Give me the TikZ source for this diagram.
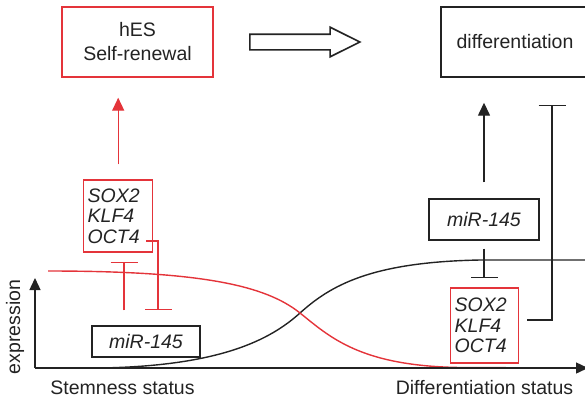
\documentclass[tikz,border=0pt]{standalone}
\usepackage{fontspec}
\setmainfont{Liberation Sans}
\usepackage{tikz}
\usetikzlibrary{shapes.arrows, arrows.meta, calc}
\definecolor{sred}{RGB}{228, 52, 58}
\definecolor{ink}{RGB}{35, 35, 35}
\newcommand*{\lw}{1.4}

\begin{document}
\begin{tikzpicture}[
   x=1pt, y=-1pt,
   font=\fontsize{19.5}{21}\selectfont,
   titlebox/.style={rectangle, draw=sred, line width=\lw, text=ink, align=center,
                    minimum width=151pt, minimum height=70pt, font=\fontsize{19.5}{24}\selectfont},
   plainbox/.style={rectangle, draw=ink, line width=\lw, text=ink, inner sep=4pt},
   genebox/.style={rectangle, draw=sred, line width=\lw, text=ink, inner xsep=4pt,
                   text width=61pt, align=left, minimum height=72pt,
                   font=\fontsize{19.5}{20.5}\selectfont\itshape},
   mirbox/.style={plainbox, font=\fontsize{19.5}{21}\selectfont\itshape},
   bigarrow/.style={single arrow, draw=ink, fill=white, line width=1.6, inner sep=7pt,
                    minimum height=110pt, minimum width=29pt, single arrow tip angle=53,
                    single arrow head extend=7pt},
   act/.style={line width=\lw, -{Triangle[length=13pt, width=12pt]}},
   inh/.style={line width=\lw, -{Bar[width=27pt]}},
   lbl/.style={text=ink, inner sep=0pt}
  ]

  \useasboundingbox (0, 0) rectangle (585, 400);

  % boxes
  \node (hes) at (137.5, 42) [titlebox] {hES\\Self-renewal};
  \node (diff) at (515, 42) [plainbox, minimum width=148pt, minimum height=70pt] {differentiation};
  \node (shift) at (297, 42) [bigarrow] {};

  \node (soxL) at (83, 216) [genebox, anchor=west] {SOX2\\KLF4\\OCT4};
  \node (mirL) at (146, 341.5) [mirbox, minimum width=108pt, minimum height=31pt] {miR-145};

  \node (mirR) at (484, 219.5) [mirbox, minimum width=110pt, minimum height=41pt] {miR-145};
  \node (soxR) at (450, 325.5) [genebox, anchor=west, text width=60pt, minimum height=75pt] {SOX2\\KLF4\\OCT4};

  % axes
  \coordinate (origin) at (35, 368);
  \coordinate (ytop) at (35, 278);
  \coordinate (xend) at (588, 368);

  \node (ylbl) at (15, 327) [lbl, rotate=90] {expression};
  \node (xlblL) at (122.5, 388) [lbl] {Stemness status};
  \node (xlblR) at (484.5, 388) [lbl] {Differentiation status};

  % expression curves
  \draw[ink, line width=\lw] (100, 368) .. controls (220, 366) and (270, 340) .. (300, 313)
        .. controls (330, 286) and (370, 262) .. (480, 260) -- (590, 260);
  \draw[sred, line width=\lw] (48, 271) .. controls (200, 271) and (265, 285) .. (300, 313)
        .. controls (330, 337) and (360, 366) .. (460, 367.5) -- (582, 368);

  \draw[ink, line width=\lw, -{Triangle[length=12pt, width=11pt]}] (origin) -- (ytop);
  \draw[ink, line width=\lw, -{Triangle[length=12pt, width=11pt]}] (origin) -- (xend);

  % stem side
  \draw[sred, act, shorten <=15pt, shorten >=20pt] (soxL.north) -- (soxL.north |- hes.south);
  \draw[sred, inh, shorten <=15pt, shorten >=9pt]
    ($(mirL.north) + (-22, 0)$) -- ($(mirL.north |- soxL.south) + (-22, 0)$);
  \draw[sred, inh, shorten >=15pt] ($(soxL.east) + (-7, 25)$) -| ($(mirL.north) + (12, 0)$);

  % differentiated side
  \draw[ink, act, shorten <=16pt, shorten >=25pt] (mirR.north) -- (mirR.north |- diff.south);
  \draw[ink, inh, shorten <=8pt, shorten >=9pt] (mirR.south) -- (mirR.south |- soxR.north);
  \draw[ink, inh, shorten >=27pt] ($(soxR.east) + (8, -5.5)$) -| ($(diff.south) + (37, 0)$);

\end{tikzpicture}
\end{document}
